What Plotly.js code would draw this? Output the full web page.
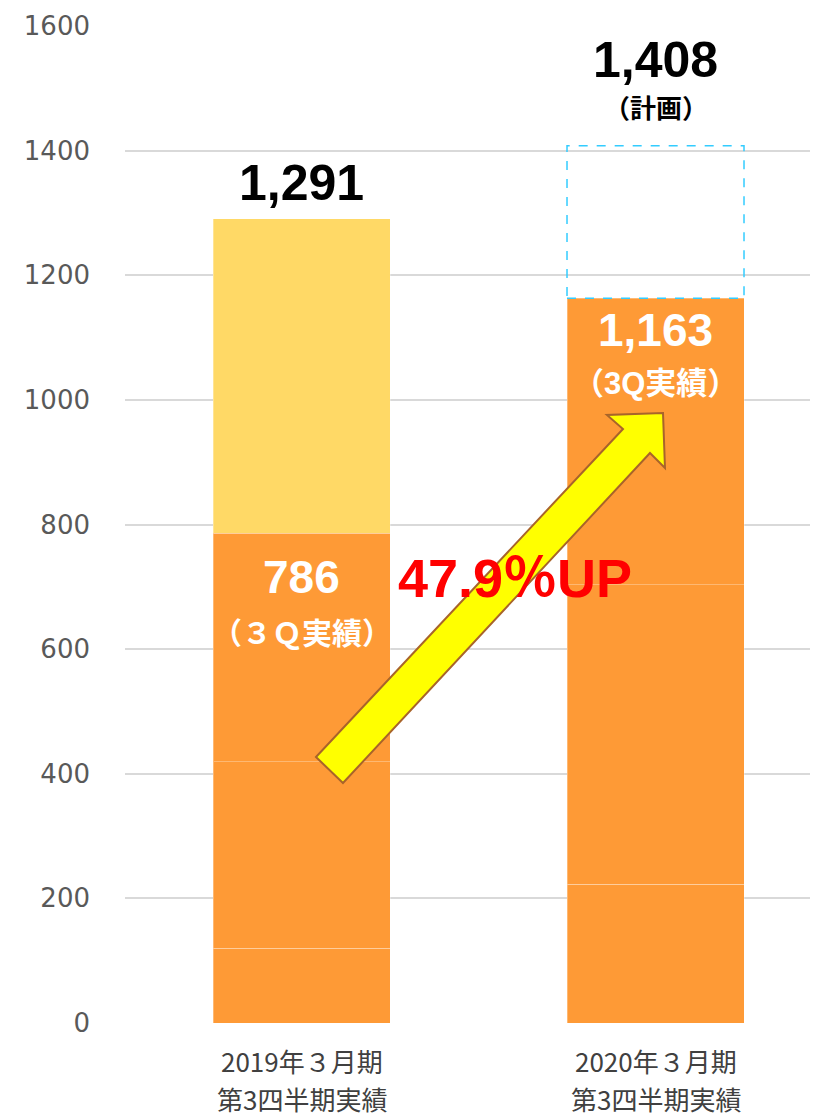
<!DOCTYPE html>
<html><head><meta charset="utf-8">
<script src="https://cdn.plot.ly/plotly-3.0.1.min.js"></script>
<style>html,body{margin:0;padding:0;background:#fff}</style>
</head><body>
<div id="chart" style="width:821px;height:1118px"></div>
<script>
const categories = ['2019年３月期 第3四半期実績', '2020年３月期 第3四半期実績'];
const labelLine1 = ['2019年３月期', '2020年３月期'];
const labelLine2 = ['第3四半期実績', '第3四半期実績'];
const q1 = [120, 223];
const q2 = [299, 480];
const q3 = [367, 460];
const cumulative = [786, 1163];
const fullYear = [1291, 1408];
const growthLabel = '47.9％UP';
const yTicks = [0, 200, 400, 600, 800, 1000, 1200, 1400, 1600];

const remainder = fullYear.map((v, i) => v - cumulative[i]);
const orange = '#FE9A36';
const segLine = {color: 'rgba(255,255,255,0.3)', width: 1};
const barW = 0.5;

function seg(vals, color) {
  return {type: 'bar', x: categories, y: vals, width: barW,
    marker: {color: color, line: segLine}, hoverinfo: 'skip', showlegend: false};
}
const traces = [
  seg(q1, orange), seg(q2, orange), seg(q3, orange),
  {type: 'bar', x: categories, y: remainder, width: barW,
   marker: {color: ['#FFD966', 'rgba(0,0,0,0)'], line: {color: ['rgba(255,255,255,0.3)', 'rgba(0,0,0,0)'], width: 1}},
   hoverinfo: 'skip', showlegend: false}
];

// plot area geometry (pixels) for decorative arrow
const L = 125, R = 11, T = 26, B = 95, W = 821, H = 1118;
const pw = W - L - R, ph = H - T - B;
const px = x => (x - L) / pw;
const py = y => (H - B - y) / ph;
const arrowPts = [[316, 757], [343, 783], [650, 453], [665, 468], [663, 413], [607, 415], [623, 429]];
const arrowPath = arrowPts.map((p, i) => (i ? 'L' : 'M') + px(p[0]).toFixed(4) + ',' + py(p[1]).toFixed(4)).join(' ') + ' Z';

const bold = 'Liberation Sans, Arial, Noto Sans CJK JP, sans-serif';
const cjk = 'Liberation Sans, Noto Sans CJK JP, sans-serif';
const axisFont = {family: 'Noto Sans CJK JP, sans-serif', size: 26, color: '#404040'};

const annotations = [
  {x: categories[0], y: fullYear[0], text: '<b>' + fullYear[0].toLocaleString('en-US') + '</b>', showarrow: false,
   yanchor: 'bottom', yshift: 6, font: {family: bold, size: 50, color: '#000'}},
  {x: categories[1], y: fullYear[1], text: '<b>' + fullYear[1].toLocaleString('en-US') + '</b>', showarrow: false,
   yanchor: 'bottom', yshift: 56, font: {family: bold, size: 50, color: '#000'}},
  {x: categories[1], y: fullYear[1], text: '<b>（計画）</b>', showarrow: false,
   yanchor: 'bottom', yshift: 20, font: {family: cjk, size: 26, color: '#000'}},
  {x: categories[1], y: cumulative[1], text: '<b>' + cumulative[1].toLocaleString('en-US') + '</b>', showarrow: false,
   yanchor: 'top', yshift: -4, font: {family: bold, size: 46, color: '#fff'}},
  {x: categories[1], y: cumulative[1], text: '<b>（3Q実績）</b>', showarrow: false,
   yanchor: 'top', yshift: -66, font: {family: cjk, size: 31, color: '#fff'}},
  {x: categories[0], y: cumulative[0], text: '<b>' + cumulative[0] + '</b>', showarrow: false,
   yanchor: 'top', yshift: -16, font: {family: bold, size: 46, color: '#fff'}},
  {x: categories[0], y: cumulative[0], text: '<b>（３Ｑ実績）</b>', showarrow: false,
   yanchor: 'top', yshift: -82, font: {family: cjk, size: 30, color: '#fff'}},
  {xref: 'paper', yref: 'paper', x: px(515), y: py(578), text: '<b>' + growthLabel + '</b>', showarrow: false,
   xanchor: 'center', yanchor: 'middle', font: {family: cjk, size: 54, color: '#FF0000'}}
];
categories.forEach((c, i) => {
  annotations.push({x: c, y: 0, yref: 'y', text: labelLine1[i], showarrow: false,
    yanchor: 'top', yshift: -17, font: axisFont});
  annotations.push({x: c, y: 0, yref: 'y', text: labelLine2[i], showarrow: false,
    yanchor: 'top', yshift: -55, font: axisFont});
});

const shapes = [
  {type: 'rect', xref: 'x', yref: 'y', x0: 1 - barW / 2, x1: 1 + barW / 2, y0: cumulative[1], y1: fullYear[1],
   line: {color: '#33CCFF', width: 1.5, dash: 'dash'}, fillcolor: 'rgba(0,0,0,0)', layer: 'above'},
  {type: 'path', xref: 'paper', yref: 'paper', path: arrowPath, fillcolor: '#FFFF00',
   line: {color: '#A8642A', width: 2}, layer: 'above'}
];

const layout = {
  width: W, height: H,
  margin: {l: L, r: R, t: T, b: B},
  paper_bgcolor: '#fff', plot_bgcolor: '#fff',
  barmode: 'stack', showlegend: false,
  xaxis: {type: 'category', range: [-0.4986, 1.4364], showgrid: false, zeroline: false, showline: false,
    ticks: '', showticklabels: false, fixedrange: true},
  yaxis: {range: [0, 1600], tickvals: yTicks, ticktext: yTicks.map(String), showgrid: true, gridcolor: '#D9D9D9', gridwidth: 2,
    zeroline: false, showline: false, ticks: '', ticklabelstandoff: 34,
    tickfont: {family: 'DejaVu Sans, sans-serif', size: 26, color: '#595959'}, fixedrange: true},
  annotations: annotations, shapes: shapes
};

Plotly.newPlot('chart', traces, layout, {displayModeBar: false, staticPlot: true});
</script>
</body></html>
